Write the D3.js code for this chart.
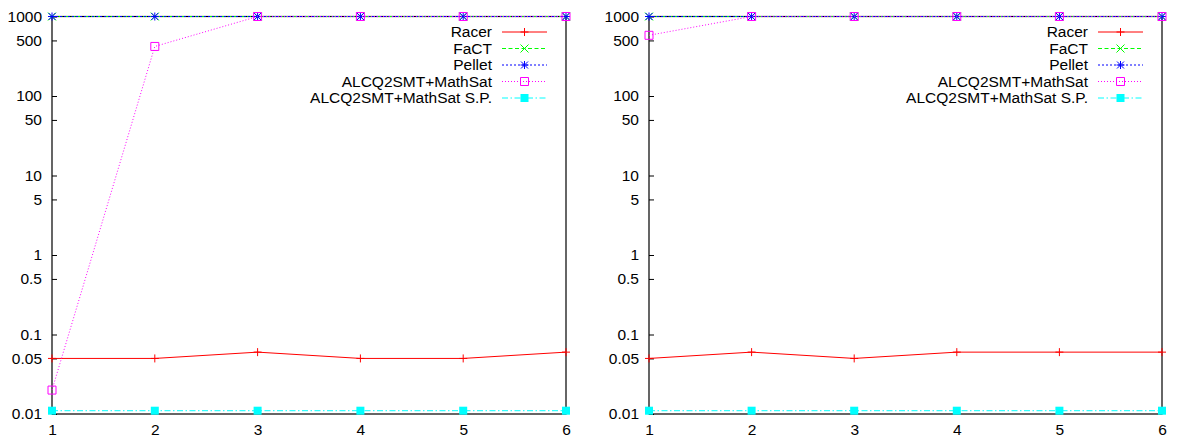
<!DOCTYPE html>
<html>
<head>
<meta charset="utf-8">
<script src="https://cdn.jsdelivr.net/npm/d3@7"></script>
<style>
  body { margin: 0; background: #fff; }
  svg { display: block; font-family: "Liberation Sans", Arial, sans-serif; }
</style>
</head>
<body>
<div id="chart"></div>
<script>
// x values (test index) and y ticks
const runs = [1, 2, 3, 4, 5, 6];
const yTickValues = [1000, 500, 100, 50, 10, 5, 1, 0.5, 0.1, 0.05, 0.01];
const seriesNames = ["Racer", "FaCT", "Pellet", "ALCQ2SMT+MathSat", "ALCQ2SMT+MathSat S.P."];

// left panel
const racerLeft = [0.05, 0.05, 0.06, 0.05, 0.05, 0.06];
const factLeft = [1000, 1000, 1000, 1000, 1000, 1000];
const pelletLeft = [1000, 1000, 1000, 1000, 1000, 1000];
const alcqLeft = [0.02, 420, 1000, 1000, 1000, 1000];
const alcqSpLeft = [0.011, 0.011, 0.011, 0.011, 0.011, 0.011];

// right panel
const racerRight = [0.05, 0.06, 0.05, 0.06, 0.06, 0.06];
const factRight = [1000, 1000, 1000, 1000, 1000, 1000];
const pelletRight = [1000, 1000, 1000, 1000, 1000, 1000];
const alcqRight = [580, 1000, 1000, 1000, 1000, 1000];
const alcqSpRight = [0.011, 0.011, 0.011, 0.011, 0.011, 0.011];

// line styles per series (gnuplot-like)
const styles = [
    { color: "#ff0000", dash: null, marker: "plus" },
    { color: "#00ff00", dash: "4,2.5", marker: "cross" },
    { color: "#0000ff", dash: "2,2", marker: "star" },
    { color: "#ff00ff", dash: "1,2", marker: "square" },
    { color: "#00ffff", dash: "6,2.5,1.5,2.5", marker: "filled" }
];

const markerPaths = {
    plus: "M-4,0H4M0,-4V4",
    cross: "M-4,-4L4,4M-4,4L4,-4",
    star: "M-4,0H4M0,-4V4M-3.5,-3.5L3.5,3.5M-3.5,3.5L3.5,-3.5",
    square: "M-4,-4H4V4H-4Z"
};

const W = 1186, H = 439;
const svg = d3.select("#chart").append("svg")
    .attr("width", W)
    .attr("height", H);

svg.append("rect").attr("width", W).attr("height", H).attr("fill", "#fff");

function drawMarker(g, kind, color, x, y) {
    if (kind === "filled") {
        g.append("rect")
            .attr("x", x - 4).attr("y", y - 4)
            .attr("width", 8).attr("height", 8)
            .attr("fill", color);
    } else {
        g.append("path")
            .attr("d", markerPaths[kind])
            .attr("transform", `translate(${x},${y})`)
            .attr("fill", "none")
            .attr("stroke", color)
            .attr("stroke-width", 1);
    }
}

function drawPanel(x0, x1, seriesData) {
    const x = d3.scaleLinear().domain([1, 6]).range([x0, x1]);
    const y = d3.scaleLog().domain([0.01, 1000]).range([414, 16.5]);
    const g = svg.append("g");

    // frame
    g.append("rect")
        .attr("x", x0).attr("y", y(1000))
        .attr("width", x1 - x0).attr("height", y(0.01) - y(1000))
        .attr("fill", "none")
        .attr("stroke", "#000")
        .attr("stroke-width", 1.2);

    // y axis, ticks pointing inward
    const yAxis = g.append("g")
        .attr("transform", `translate(${x0},0)`)
        .call(d3.axisLeft(y)
            .tickValues(yTickValues)
            .tickFormat(d => String(d))
            .tickSizeInner(-5)
            .tickSizeOuter(0)
            .tickPadding(10));
    yAxis.select(".domain").remove();
    yAxis.selectAll(".tick line").attr("stroke", "#000");
    yAxis.selectAll("text")
        .attr("font-size", 15.5)
        .attr("font-family", "'Liberation Sans', Arial, sans-serif")
        .attr("fill", "#000");

    // x axis, labels only
    const xAxis = g.append("g")
        .attr("transform", `translate(0,${y(0.01)})`)
        .call(d3.axisBottom(x)
            .tickValues(runs)
            .tickFormat(d3.format("d"))
            .tickSize(0)
            .tickPadding(10));
    xAxis.select(".domain").remove();
    xAxis.selectAll("text")
        .attr("font-size", 15.5)
        .attr("font-family", "'Liberation Sans', Arial, sans-serif")
        .attr("fill", "#000");

    // series
    const line = d3.line().x(d => x(d[0])).y(d => y(d[1]));
    seriesData.forEach((vals, i) => {
        const st = styles[i];
        const pts = runs.map((r, j) => [r, vals[j]]);
        g.append("path")
            .datum(pts)
            .attr("d", line)
            .attr("fill", "none")
            .attr("stroke", st.color)
            .attr("stroke-width", 1)
            .attr("stroke-dasharray", st.dash);
        pts.forEach(p => drawMarker(g, st.marker, st.color, x(p[0]), y(p[1])));
    });

    // legend
    const textX = x1 - 74;
    const lx0 = x1 - 64, lx1 = x1 - 19;
    seriesNames.forEach((name, i) => {
        const st = styles[i];
        const ly = 32 + i * 16.5;
        g.append("text")
            .attr("x", textX).attr("y", ly)
            .attr("dy", "0.35em")
            .attr("text-anchor", "end")
            .attr("font-size", 15.5)
            .attr("fill", "#000")
            .text(name);
        g.append("line")
            .attr("x1", lx0).attr("x2", lx1)
            .attr("y1", ly).attr("y2", ly)
            .attr("stroke", st.color)
            .attr("stroke-width", 1)
            .attr("stroke-dasharray", st.dash);
        drawMarker(g, st.marker, st.color, (lx0 + lx1) / 2, ly);
    });
}

drawPanel(52, 566, [racerLeft, factLeft, pelletLeft, alcqLeft, alcqSpLeft]);
drawPanel(649, 1162, [racerRight, factRight, pelletRight, alcqRight, alcqSpRight]);
</script>
</body>
</html>
